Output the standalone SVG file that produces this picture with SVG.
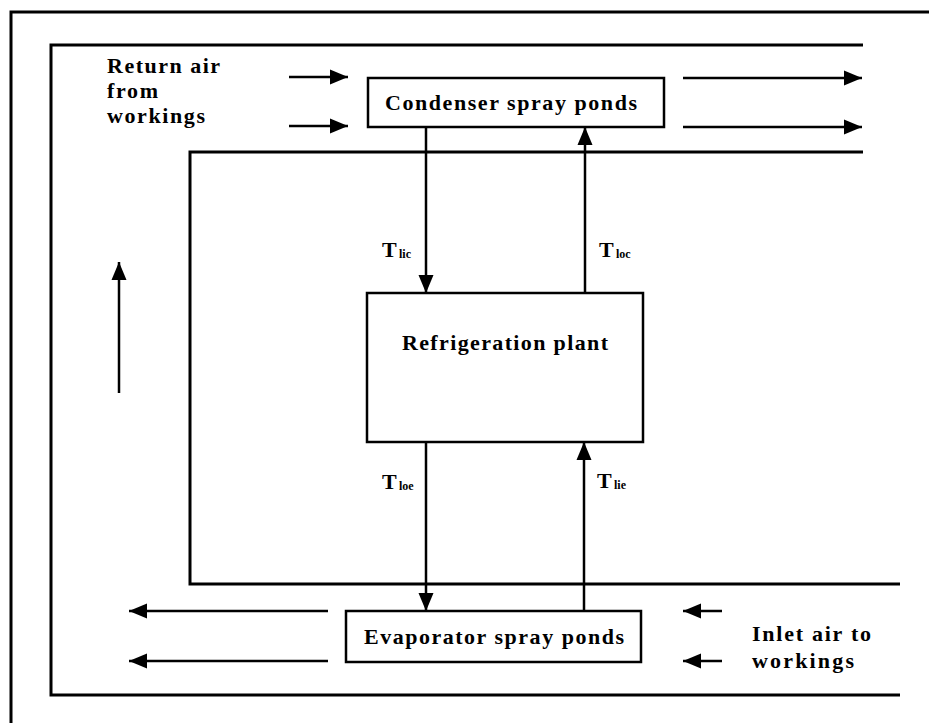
<svg xmlns="http://www.w3.org/2000/svg" width="929" height="723" viewBox="0 0 929 723">
<defs>
<marker id="ah" markerUnits="userSpaceOnUse" markerWidth="18" markerHeight="16" refX="18" refY="8" orient="auto">
<path d="M0,0.5 L18,8 L0,15.5 Z" fill="#000"/>
</marker>
<style>
.fr{fill:none;stroke:#000;stroke-width:3}
.bx{fill:#fff;stroke:#000;stroke-width:2.5}
.ar{fill:none;stroke:#000;stroke-width:2.5;marker-end:url(#ah)}
.t{font-family:"Liberation Serif","Times New Roman",serif;font-weight:bold;font-size:22px;fill:#000}
.T{font-family:"Liberation Serif","Times New Roman",serif;font-weight:bold;font-size:22px;fill:#000}
.s{font-family:"Liberation Serif","Times New Roman",serif;font-weight:bold;font-size:12px;fill:#000}
</style>
</defs>
<rect width="929" height="723" fill="#fff"/>
<g id="frames">
<path class="fr" d="M929,12 H11 V723"/>
<path class="fr" d="M863,45 H51 V695 H900"/>
<path class="fr" d="M863,152 H190 V584 H900"/>
</g>
<g id="connectors">
<line class="ar" x1="426" y1="127" x2="426" y2="293"/>
<line class="ar" x1="585" y1="293" x2="585" y2="127"/>
<line class="ar" x1="426" y1="442" x2="426" y2="611"/>
<line class="ar" x1="584" y1="611" x2="584" y2="442"/>
<line class="ar" x1="289" y1="77" x2="348" y2="77"/>
<line class="ar" x1="289" y1="126" x2="348" y2="126"/>
<line class="ar" x1="683" y1="78" x2="862" y2="78"/>
<line class="ar" x1="683" y1="127" x2="862" y2="127"/>
<line class="ar" x1="119" y1="393" x2="119" y2="262"/>
<line class="ar" x1="328" y1="611" x2="129" y2="611"/>
<line class="ar" x1="328" y1="661" x2="129" y2="661"/>
<line class="ar" x1="722" y1="611" x2="683" y2="611"/>
<line class="ar" x1="722" y1="661" x2="683" y2="661"/>
</g>
<g id="condenser">
<rect class="bx" x="368" y="78" width="296" height="49"/>
<text class="t" x="385" y="110" textLength="252" lengthAdjust="spacing">Condenser spray ponds</text>
</g>
<g id="refrigeration">
<rect class="bx" x="367" y="293" width="276" height="149"/>
<text class="t" x="402" y="350" textLength="206" lengthAdjust="spacing">Refrigeration plant</text>
</g>
<g id="evaporator">
<rect class="bx" x="346" y="611" width="295" height="51"/>
<text class="t" x="364" y="644" textLength="260" lengthAdjust="spacing">Evaporator spray ponds</text>
</g>
<g id="return-air">
<text class="t" x="107" y="73" textLength="113" lengthAdjust="spacing">Return air</text>
<text class="t" x="107" y="98" textLength="51" lengthAdjust="spacing">from</text>
<text class="t" x="107" y="123" textLength="98" lengthAdjust="spacing">workings</text>
</g>
<g id="inlet-air">
<text class="t" x="752" y="641" textLength="119" lengthAdjust="spacing">Inlet air to</text>
<text class="t" x="752" y="668" textLength="102" lengthAdjust="spacing">workings</text>
</g>
<g id="labels">
<text class="T" x="382" y="257">T</text><text class="s" x="399" y="258">lic</text>
<text class="T" x="599" y="257">T</text><text class="s" x="616" y="258">loc</text>
<text class="T" x="382" y="489">T</text><text class="s" x="399" y="490">loe</text>
<text class="T" x="597" y="488">T</text><text class="s" x="614" y="489">lie</text>
</g>
</svg>
